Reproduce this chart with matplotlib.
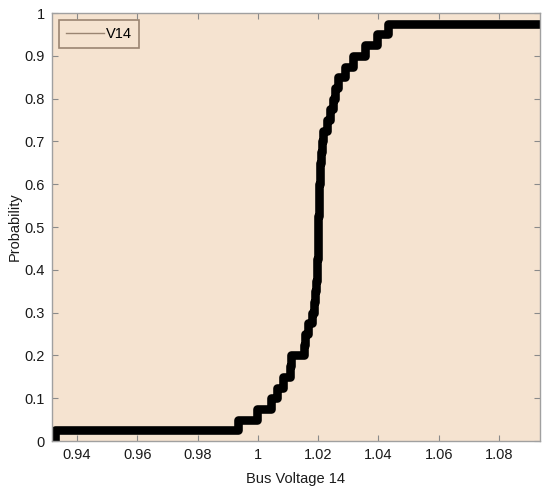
import matplotlib
matplotlib.use("Agg")
import matplotlib.pyplot as plt
from matplotlib.lines import Line2D
import numpy as np

# Sorted sample values (ECDF steps of 1/40)
samples = [0.9327, 0.9935, 0.9997, 1.0043, 1.0065, 1.0085, 1.0105, 1.0110,
           1.0153, 1.0155, 1.0165, 1.0180, 1.0185, 1.0190, 1.0193, 1.0195,
           1.0197, 1.0198, 1.0199, 1.0200, 1.0201, 1.0202, 1.0203, 1.0204,
           1.0205, 1.0206, 1.0208, 1.0212, 1.0216, 1.0228, 1.0240, 1.0250,
           1.0255, 1.0266, 1.0290, 1.0315, 1.0355, 1.0395, 1.0432]
n_total = 40
x_ticks = [0.94, 0.96, 0.98, 1.00, 1.02, 1.04, 1.06, 1.08]
x_tick_labels = ["0.94", "0.96", "0.98", "1", "1.02", "1.04", "1.06", "1.08"]
y_ticks = [0, 0.1, 0.2, 0.3, 0.4, 0.5, 0.6, 0.7, 0.8, 0.9, 1.0]
y_tick_labels = ["0", "0.1", "0.2", "0.3", "0.4", "0.5", "0.6", "0.7", "0.8", "0.9", "1"]
xlim = (0.9317, 1.0936)

plt.rcParams['font.family'] = ['Liberation Sans', 'DejaVu Sans']

fig = plt.figure(figsize=(5.42, 4.95), dpi=100)
ax = fig.add_axes([0.0959, 0.109, 0.9004, 0.8647])
bg = '#F5E3D0'
ax.set_facecolor(bg)

xs = [samples[0]] + samples + [xlim[1] + 0.01]
ys = [0.0] + [(i + 1) / n_total for i in range(len(samples))] + [len(samples) / n_total]
ax.plot(xs, ys, drawstyle='steps-post', color='black', lw=6.2,
        solid_capstyle='round', solid_joinstyle='round')

ax.set_xlim(*xlim)
ax.set_ylim(0, 1)
ax.set_xticks(x_ticks)
ax.set_xticklabels(x_tick_labels)
ax.set_yticks(y_ticks)
ax.set_yticklabels(y_tick_labels)
ax.tick_params(direction='in', top=True, right=True, length=4, width=0.8,
               color='#8a8a8a', labelsize=10.5, labelcolor='#1a1a1a', pad=5)
for s in ax.spines.values():
    s.set_color('#a0a0a0')
    s.set_linewidth(1.0)

ax.set_xlabel('Bus Voltage 14', fontsize=10.5, color='#1a1a1a', labelpad=7)
ax.set_ylabel('Probability', fontsize=10.5, color='#1a1a1a', labelpad=2)

handle = Line2D([0], [0], color='#9a8572', lw=1)
leg = ax.legend([handle], ['V14'], loc='upper left', fontsize=10.5,
                frameon=True, fancybox=False, handlelength=2.6,
                handletextpad=0.15, borderpad=0.5, borderaxespad=0.45)
leg.get_frame().set_facecolor(bg)
leg.get_frame().set_edgecolor('#9a8572')
leg.get_frame().set_linewidth(1.2)
leg.get_frame().set_alpha(1)

fig.savefig('out.png', dpi=100, facecolor='white')
